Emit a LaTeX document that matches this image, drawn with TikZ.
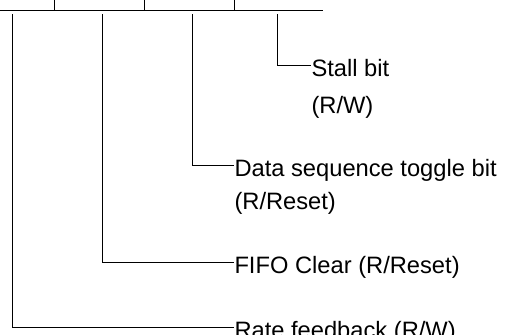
\documentclass[tikz,border=0pt]{standalone}
\usepackage{fontspec}
\setmainfont{Liberation Sans}
\begin{document}
\begin{tikzpicture}[x=1pt,y=-1pt,line width=1pt,
  lbl/.style={anchor=west,inner sep=0pt,text height=22pt,text depth=0pt,font=\fontsize{23.7}{28}\selectfont},
  lbltwo/.style={anchor=base west,inner sep=0pt,font=\fontsize{23.7}{28}\selectfont}]
\useasboundingbox (0,0) rectangle (507,335);
% register cells
\coordinate (r0) at (0,10);
\coordinate (r1) at (323,10);
\draw (r0) -- (r1);
\coordinate (k1) at (54,-2);
\coordinate (k2) at (144,-2);
\coordinate (k3) at (234,-2);
\draw (k1) -- (k1 |- r0);
\draw (k2) -- (k2 |- r0);
\draw (k3) -- (k3 |- r0);
% leader starts
\coordinate (c1) at (12,14);
\coordinate (c2) at (102,14);
\coordinate (c3) at (192,14);
\coordinate (c4) at (277,14);
% labels
\node[lbl] (stall) at (311,65) {Stall bit};
\node[lbltwo] (stall2) at ([yshift=-37pt]stall.base west) {(R/W)};
\node[lbl] (data) at (234,165) {Data sequence toggle bit};
\node[lbltwo] (data2) at ([yshift=-33pt]data.base west) {(R/Reset)};
\node[lbl] (fifo) at (234,262) {FIFO Clear (R/Reset)};
\node[lbl] (rate) at (234,327) {Rate feedback (R/W)};
% leaders
\draw (c4) |- (stall.west);
\draw (c3) |- (data.west);
\draw (c2) |- (fifo.west);
\draw (c1) |- (rate.west);
\end{tikzpicture}
\end{document}
